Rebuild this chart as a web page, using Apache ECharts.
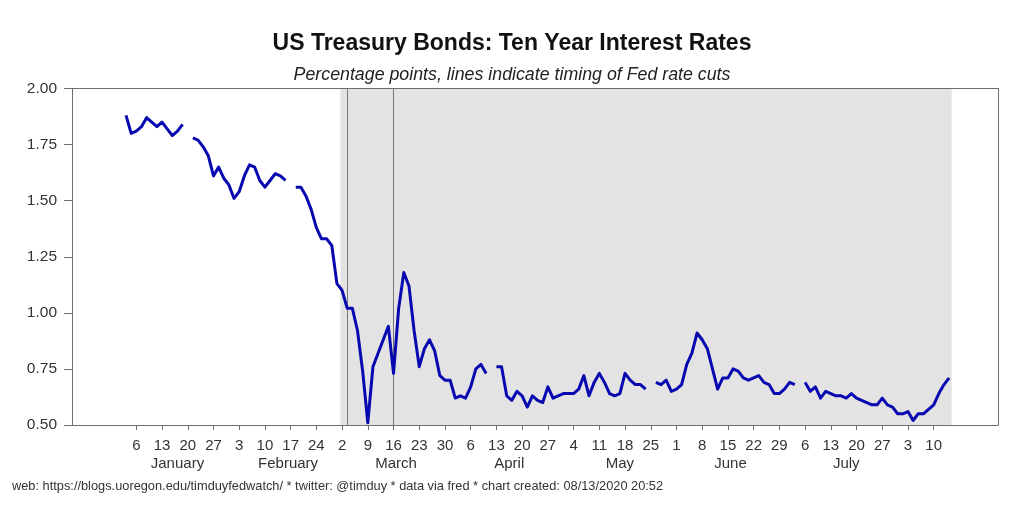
<!DOCTYPE html>
<html><head><meta charset="utf-8">
<script src="https://cdn.jsdelivr.net/npm/echarts@6/dist/echarts.min.js"></script>
<style>html,body{margin:0;padding:0;background:#fff}#c{width:1024px;height:516px}</style>
</head><body><div id="c"></div>
<script>
// First business day of the data; one value per weekday, null = market holiday
const firstDay = '2020-01-02';
const rates = [
  1.88, 1.80,
  1.81, 1.83, 1.87, 1.85, 1.83,
  1.85, 1.82, 1.79, 1.81, 1.84,
  null, 1.78, 1.77, 1.74, 1.70,
  1.61, 1.65, 1.60, 1.57, 1.51,
  1.54, 1.61, 1.66, 1.65, 1.59,
  1.56, 1.59, 1.62, 1.61, 1.59,
  null, 1.56, 1.56, 1.52, 1.46,
  1.38, 1.33, 1.33, 1.30, 1.13,
  1.10, 1.02, 1.02, 0.92, 0.74,
  0.51, 0.76, 0.82, 0.88, 0.94,
  0.73, 1.02, 1.18, 1.12, 0.92,
  0.76, 0.84, 0.88, 0.83, 0.72,
  0.70, 0.70, 0.62, 0.63, 0.62,
  0.67, 0.75, 0.77, 0.73, null,
  0.76, 0.76, 0.63, 0.61, 0.65,
  0.63, 0.58, 0.63, 0.61, 0.60,
  0.67, 0.62, 0.63, 0.64, 0.64,
  0.64, 0.66, 0.72, 0.63, 0.69,
  0.73, 0.69, 0.64, 0.63, 0.64,
  0.73, 0.70, 0.68, 0.68, 0.66,
  null, 0.69, 0.68, 0.70, 0.65,
  0.66, 0.68, 0.77, 0.82, 0.91,
  0.88, 0.84, 0.75, 0.66, 0.71,
  0.71, 0.75, 0.74, 0.71, 0.70,
  0.71, 0.72, 0.69, 0.68, 0.64,
  0.64, 0.66, 0.69, 0.68, null,
  0.69, 0.65, 0.67, 0.62, 0.65,
  0.64, 0.63, 0.63, 0.62, 0.64,
  0.62, 0.61, 0.60, 0.59, 0.59,
  0.62, 0.59, 0.58, 0.55, 0.55,
  0.56, 0.52, 0.55, 0.55, 0.57,
  0.59, 0.64, 0.68, 0.71
];
const firstMonday = '2020-01-06';
const tickLabels = ['6','13','20','27','3','10','17','24','2','9','16','23','30','6','13','20','27','4','11','18','25','1','8','15','22','29','6','13','20','27','3','10'];
const months = ['January','February','March','April','May','June','July'];
const cutDates = ['2020-03-03','2020-03-16'];
const shadeStartDate = '2020-03-01';
const axisStartDate = '2019-12-19';
const axisEndDate = '2020-08-26';

const DAY = 86400000;
function parse(s){ const p = s.split('-').map(Number); return Date.UTC(p[0], p[1]-1, p[2]); }
function isWd(t){ const w = new Date(t).getUTCDay(); return w > 0 && w < 6; }
function wdIndex(t){
  const t0 = parse(firstDay); let n = 0;
  if (t >= t0) { for (let c = t0; c < t; c += DAY) if (isWd(c + DAY)) n++; }
  else { for (let c = t0; c > t; c -= DAY) if (isWd(c - DAY)) n--; }
  return n;
}
function dateIndex(s){
  const t = parse(s);
  if (isWd(t)) return wdIndex(t);
  let p = t; while (!isWd(p)) p -= DAY;
  let q = t; while (!isWd(q)) q += DAY;
  return wdIndex(p) + (t - p) / (q - p);
}
const xMin = dateIndex(axisStartDate) - 0.5;
const xMax = dateIndex(axisEndDate) + 0.5;
const tickPos = tickLabels.map((_, k) => wdIndex(parse(firstMonday) + k * 7 * DAY));
const labelMap = {}; tickPos.forEach((p, k) => labelMap[p] = tickLabels[k]);
const monthPos = months.map((_, m) => {
  let a = Date.UTC(2020, m, 1); while (!isWd(a)) a += DAY;
  let b = Date.UTC(2020, m + 1, 0); while (!isWd(b)) b -= DAY;
  return (wdIndex(a) + wdIndex(b)) / 2;
});
const monthMap = {}; monthPos.forEach((p, k) => monthMap[p] = months[k]);
const seriesData = rates.map((v, i) => [i, v === null ? '-' : v]);
const shadeStart = dateIndex(shadeStartDate);
const shadeEnd = rates.length - 0.5;

const chart = echarts.init(document.getElementById('c'), null, {renderer: 'canvas'});
const axisColor = '#6e6e6e';
const textColor = '#333';
chart.setOption({
  animation: false,
  backgroundColor: '#fff',
  title: [
    { text: 'US Treasury Bonds: Ten Year Interest Rates', left: 'center', top: 27,
      textStyle: { fontFamily: 'Liberation Sans, sans-serif', fontWeight: 'bold', fontSize: 23, color: '#111' } },
    { text: 'Percentage points, lines indicate timing of Fed rate cuts', left: 'center', top: 61,
      textStyle: { fontFamily: 'Liberation Sans, sans-serif', fontStyle: 'italic', fontWeight: 'normal', fontSize: 17.8, color: '#222' } },
    { text: 'web: https://blogs.uoregon.edu/timduyfedwatch/ * twitter: @timduy * data via fred * chart created: 08/13/2020 20:52', left: 7, top: 475,
      textStyle: { fontFamily: 'Liberation Sans, sans-serif', fontWeight: 'normal', fontSize: 12.8, color: textColor } }
  ],
  grid: { left: 72, right: 26, top: 88.5, bottom: 91, containLabel: false },
  xAxis: [
    { type: 'value', min: xMin, max: xMax, position: 'bottom', z: 10,
      axisLine: { show: true, lineStyle: { color: axisColor, width: 1 } },
      axisTick: { show: true, customValues: tickPos, length: 5, lineStyle: { color: axisColor } },
      axisLabel: { show: true, customValues: tickPos, formatter: v => labelMap[v] || '', margin: 13,
        fontFamily: 'Liberation Sans, sans-serif', fontSize: 15, color: textColor },
      splitLine: { show: false } },
    { type: 'value', min: xMin, max: xMax, position: 'bottom', z: 10,
      axisLine: { show: false }, axisTick: { show: false },
      axisLabel: { show: true, customValues: monthPos, formatter: v => monthMap[v] || '', margin: 31,
        fontFamily: 'Liberation Sans, sans-serif', fontSize: 15, color: textColor },
      splitLine: { show: false } },
    { type: 'value', min: xMin, max: xMax, position: 'top', z: 10,
      axisLine: { show: true, onZero: false, lineStyle: { color: axisColor, width: 1 } },
      axisTick: { show: false }, axisLabel: { show: false }, splitLine: { show: false } }
  ],
  yAxis: [
    { type: 'value', min: 0.5, max: 2.0, interval: 0.25, position: 'left', z: 10,
      axisLine: { show: true, onZero: false, lineStyle: { color: axisColor, width: 1 } },
      axisTick: { show: true, length: 8, lineStyle: { color: axisColor } },
      axisLabel: { margin: 15, formatter: v => v.toFixed(2), fontFamily: 'Liberation Sans, sans-serif', fontSize: 15.5, color: textColor },
      splitLine: { show: false } },
    { type: 'value', min: 0.5, max: 2.0, interval: 0.25, position: 'right', z: 10,
      axisLine: { show: true, onZero: false, lineStyle: { color: axisColor, width: 1 } },
      axisTick: { show: false }, axisLabel: { show: false }, splitLine: { show: false } }
  ],
  series: [
    { type: 'line', xAxisIndex: 0, yAxisIndex: 0, data: [], z: 1, silent: true,
      markArea: { silent: true, itemStyle: { color: '#e3e3e3' },
        data: [[{ xAxis: shadeStart }, { xAxis: shadeEnd }]] },
      markLine: { silent: true, symbol: 'none', label: { show: false },
        lineStyle: { color: '#777', width: 1, type: 'solid' },
        data: cutDates.map(d => ({ xAxis: dateIndex(d) })) } },
    { type: 'line', xAxisIndex: 0, yAxisIndex: 0, data: seriesData, z: 5,
      showSymbol: false, symbol: 'none', connectNulls: false,
      lineStyle: { color: '#0808b0', width: 3, join: 'round' } }
  ]
});
</script></body></html>
